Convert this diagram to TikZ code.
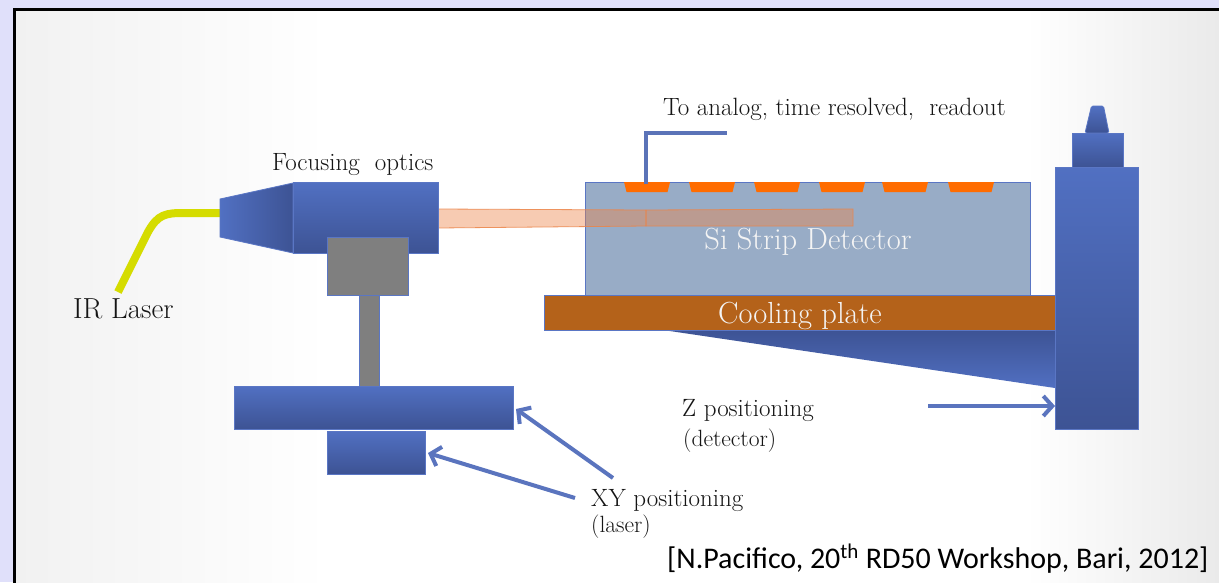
\documentclass[tikz,border=0pt]{standalone}
\usepackage{fontspec}
\newfontfamily\citefont{Carlito}
\usetikzlibrary{arrows.meta,calc}

\definecolor{lav}{HTML}{E0E0FA}
\definecolor{paneledge}{HTML}{F1F1F1}
\definecolor{paneright}{HTML}{EAEAEA}
\definecolor{bluetop}{HTML}{5170C2}
\definecolor{bluebot}{HTML}{3D5394}
\definecolor{blueline}{HTML}{5A76C4}
\definecolor{fibercol}{HTML}{D5DC00}
\definecolor{detfill}{HTML}{98ACC6}
\definecolor{stripcol}{HTML}{FF6C00}
\definecolor{platecol}{HTML}{B4621A}
\definecolor{beamcol}{HTML}{EC8448}
\definecolor{arrowcol}{HTML}{5A74BE}
\definecolor{wirecol}{HTML}{5B73B8}
\definecolor{postgray}{HTML}{7F7F7F}
\definecolor{lighttext}{HTML}{F4F4F4}
\definecolor{inktext}{HTML}{151515}

% panel background: light grey at the edges, white across the middle
% (the part between 25bp and 75bp spans the filled area)
\pgfdeclarehorizontalshading{panelshade}{100bp}{color(0bp)=(paneledge); color(25bp)=(paneledge); color(38bp)=(white); color(67bp)=(white); color(75bp)=(paneright); color(100bp)=(paneright)}

\tikzset{
  box/.style={rectangle, inner sep=0pt, outer sep=0pt, anchor=north west},
  metal/.style={top color=bluetop, bottom color=bluebot, draw=blueline, line width=0.8pt},
  metalside/.style={left color=bluetop, right color=bluebot, draw=blueline, line width=0.8pt},
  metalwedge/.style={top color=bluebot, bottom color=bluetop},
  greypart/.style={fill=postgray, draw=blueline, line width=0.8pt},
  detbody/.style={fill=detfill, draw=blueline, line width=0.8pt},
  plate/.style={fill=platecol, draw=blueline, line width=0.8pt},
  beamst/.style={fill=beamcol, fill opacity=0.42, draw=beamcol, draw opacity=0.85, line width=0.8pt},
  stripst/.style={fill=stripcol},
  wire/.style={draw=wirecol, line width=4pt},
  fiber/.style={draw=fibercol, line width=8pt},
  pointer/.style={draw=arrowcol, line width=4pt, -{Straight Barb[length=9pt,width=20pt]}},
  whitelbl/.style={inner sep=0pt, anchor=base, text=lighttext, font=\fontsize{30.5}{33}\selectfont},
  biglbl/.style={inner sep=0pt, anchor=base west, text=inktext, font=\fontsize{29}{32}\selectfont},
  lbl/.style={anchor=base west, inner sep=0pt, text=inktext, font=\fontsize{25}{28}\selectfont},
  smalllbl/.style={anchor=base west, inner sep=0pt, text=inktext, font=\fontsize{23.5}{26}\selectfont},
}

\begin{document}
\begin{tikzpicture}[x=1pt,y=-1pt]
\useasboundingbox (0,0) rectangle (1219,582);

% slide background and framed panel
\fill[lav] (0,0) rectangle (1219,582);
\shade[shading=panelshade] (14,9) rectangle (1219,582);
\draw[black, line width=3pt] (14.5,600) -- (14.5,9.5) -- (1230,9.5);

% wedge below the cooling plate
\path[metalwedge] (663,330) -- (1055,330) -- (1055,388) -- cycle;

% cooling plate and detector
\node[box, plate, minimum width=520, minimum height=35] (plate) at (544,295) {};
\node[whitelbl] (platelbl) at (800,323) {Cooling plate};
\node[box, detbody, minimum width=445, minimum height=113] (det) at (585,182) {};
\node[whitelbl] (detlbl) at (808,249) {Si Strip Detector};

% laser beam
\filldraw[beamst] (438,209) -- (646,210) -- (646,226) -- (438,228) -- cycle;
\filldraw[beamst] (646,210) -- (853,209) -- (853,226) -- (646,226) -- cycle;

% readout strips
\foreach \sx in {624,689,754,819,882,948}
  \fill[stripst] (\sx,182) -- (\sx+46,182) -- (\sx+43.5,192) -- (\sx+2.5,192) -- cycle;

% readout line
\coordinate (s1) at (646,184);
\coordinate (wend) at (727,133);
\draw[wire] (s1) |- (wend);
\node[lbl] (readout) at (663,115) {To analog, time resolved,\ \ readout};

% Z stage tower
\node[box, metal, minimum width=83, minimum height=262] (tower) at (1055,167) {};
\node[box, metal, minimum width=51, minimum height=34] (cap) at (1072,133) {};
\path[metal, rounded corners=1.5pt] (1085,133) -- (1091.5,106) -- (1103.5,106) -- (1109,133) -- cycle;

% fibre
\draw[fiber] (118,292) -- (148,232) .. controls (158,214) and (166,213) .. (184,213) -- (221,213);
\node[biglbl] (irlaser) at (73,318) {IR Laser};

% focusing optics
\path[metalside] (220,199) -- (293,183) -- (293,253) -- (220,237) -- cycle;
\node[box, metal, minimum width=145, minimum height=71] (optics) at (293,182) {};
\node[lbl] (opticslbl) at (272,170) {Focusing\ \ optics};

% mount and post
\node[box, greypart, minimum width=81, minimum height=58] (mount) at (327,237) {};
\node[box, greypart, minimum width=20, minimum height=91] (post) at (359,295) {};

% XY stages
\node[box, metal, minimum width=279, minimum height=43] (xytop) at (234,386) {};
\node[box, metal, minimum width=98, minimum height=43] (xybot) at (327,431) {};

% labels and pointers
\coordinate (xyA) at (613,478);
\coordinate (xyB) at (575,498);
\draw[pointer] (xyA) -- ($(xytop.east)+(3,1.5)$);
\draw[pointer] (xyB) -- ($(xybot.east)+(3,0.5)$);
\node[lbl] (xylbl) at (591,506) {XY positioning};
\node[smalllbl] (xysub) at (591,532) {(laser)};

\coordinate (zA) at (928,406);
\draw[pointer] (zA) -- (zA -| tower.west);
\node[lbl] (zlbl) at (682,416) {Z positioning};
\node[smalllbl] (zsub) at (683,446) {(detector)};

% reference
\node[anchor=base west, inner sep=0pt, font=\citefont\fontsize{30}{33}\selectfont] (cite) at (667,568)
  {[N.Pacifico, 20\textsuperscript{th} RD50 Workshop, Bari, 2012]};
\end{tikzpicture}
\end{document}
